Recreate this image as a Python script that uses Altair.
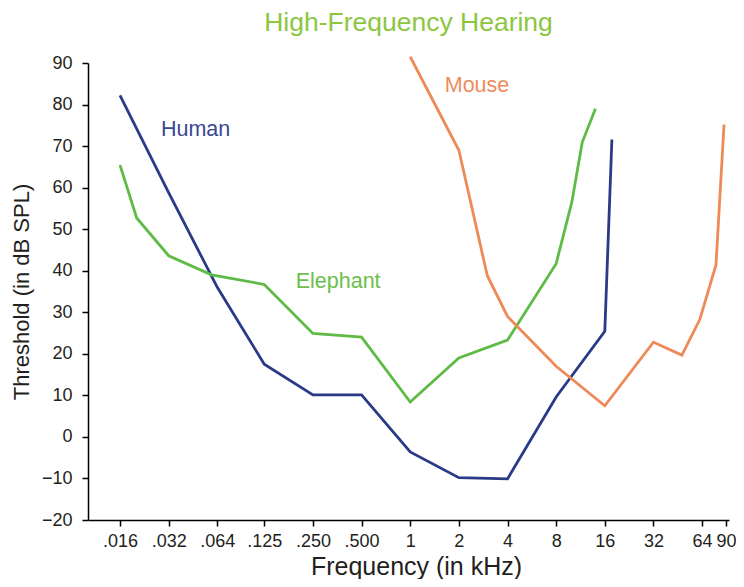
import altair as alt
import pandas as pd

# ---- data ----
human_khz = [0.016, 0.032, 0.064, 0.125, 0.25, 0.5, 1, 2, 4, 8, 16, 17.7]
human_db = [82.2, 58.8, 36.0, 17.5, 10.1, 10.1, -3.6, -9.8, -10.1, 9.6, 25.4, 71.6]

elephant_khz = [0.016, 0.0203, 0.032, 0.059, 0.125, 0.25, 0.5, 1, 2, 4, 8, 10, 11.6, 14]
elephant_db = [65.4, 52.7, 43.6, 39.0, 36.7, 24.9, 24.0, 8.4, 19.0, 23.3, 41.7, 56.5, 70.9, 79.0]

mouse_khz = [1, 2, 3, 4, 8, 16, 32, 48, 62, 78, 87.5]
mouse_db = [91.5, 69.0, 38.8, 29.0, 17.0, 7.5, 22.8, 19.7, 28.3, 41.4, 75.2]

species = ["Human", "Elephant", "Mouse"]
line_colors = ["#2B3A87", "#5DBB46", "#EE8A58"]
label_colors = ["#3A4894", "#6CC04B", "#EF8C5C"]
label_khz = [0.047, 0.358, 2.59]
label_db = [73.8, 37.2, 84.5]

x_ticks = [0.016, 0.032, 0.064, 0.125, 0.25, 0.5, 1, 2, 4, 8, 16, 32, 64, 90]
y_ticks = [-20, -10, 0, 10, 20, 30, 40, 50, 60, 70, 80, 90]

rows = []
for name, fs, dbs in [("Human", human_khz, human_db),
                      ("Elephant", elephant_khz, elephant_db),
                      ("Mouse", mouse_khz, mouse_db)]:
    for i, (f, d) in enumerate(zip(fs, dbs)):
        rows.append({"species": name, "khz": f, "db": d, "idx": i})
df = pd.DataFrame(rows)

labels = pd.DataFrame({"species": species, "khz": label_khz, "db": label_db})

FONT = "Liberation Sans"

x_scale = alt.Scale(type="log", domain=[0.01014, 93.9], nice=False)
y_scale = alt.Scale(domain=[-20, 90], nice=False, zero=False)

x_axis = alt.Axis(
    values=x_ticks,
    labelExpr="datum.value < 1 ? replace(format(datum.value, '.3f'), '0.', '.') : format(datum.value, 'd')",
    title="Frequency (in kHz)",
    grid=False, tickSize=6, labelPadding=6, titlePadding=4, titleX=328,
    labelFontSize=18, titleFontSize=25, labelFont=FONT, titleFont=FONT,
    labelColor="#231F20", titleColor="#231F20", titleFontWeight="normal",
    domainColor="#000000", tickColor="#000000", domainWidth=1.5, tickWidth=1.5,
    labelOverlap=False, labelFlush=False,
)
y_axis = alt.Axis(
    values=y_ticks,
    title="Threshold (in dB SPL)",
    grid=False, tickSize=6, labelPadding=10, titlePadding=8,
    labelFontSize=18, titleFontSize=22, labelFont=FONT, titleFont=FONT,
    labelColor="#231F20", titleColor="#231F20", titleFontWeight="normal",
    domainColor="#000000", tickColor="#000000", domainWidth=1.5, tickWidth=1.5,
    labelOverlap=False,
)

color_lines = alt.Scale(domain=species, range=line_colors)
color_labels = alt.Scale(domain=species, range=label_colors)

lines = alt.Chart(df).mark_line(strokeWidth=2.8, clip=False).encode(
    x=alt.X("khz:Q", scale=x_scale, axis=x_axis),
    y=alt.Y("db:Q", scale=y_scale, axis=y_axis),
    color=alt.Color("species:N", scale=color_lines, legend=None),
    order="idx:Q",
)

texts = alt.Chart(labels).mark_text(fontSize=21.5, font=FONT, align="center", baseline="middle").encode(
    x=alt.X("khz:Q", scale=x_scale),
    y=alt.Y("db:Q", scale=y_scale),
    text="species:N",
    color=alt.Color("species:N", scale=color_labels, legend=None),
)

chart = alt.layer(lines, texts).resolve_scale(color="independent").properties(
    width=641,
    height=457,
    title=alt.TitleParams("High-Frequency Hearing", fontSize=26.5, font=FONT,
                          color="#8CC63F", fontWeight="normal", offset=15, anchor="middle"),
    autosize=alt.AutoSizeParams(type="none"),
    padding={"left": 80, "top": 55, "right": 7, "bottom": 59},
).configure_view(stroke=None)

chart.save("out.html", embed_options={"renderer": "svg", "actions": False})
